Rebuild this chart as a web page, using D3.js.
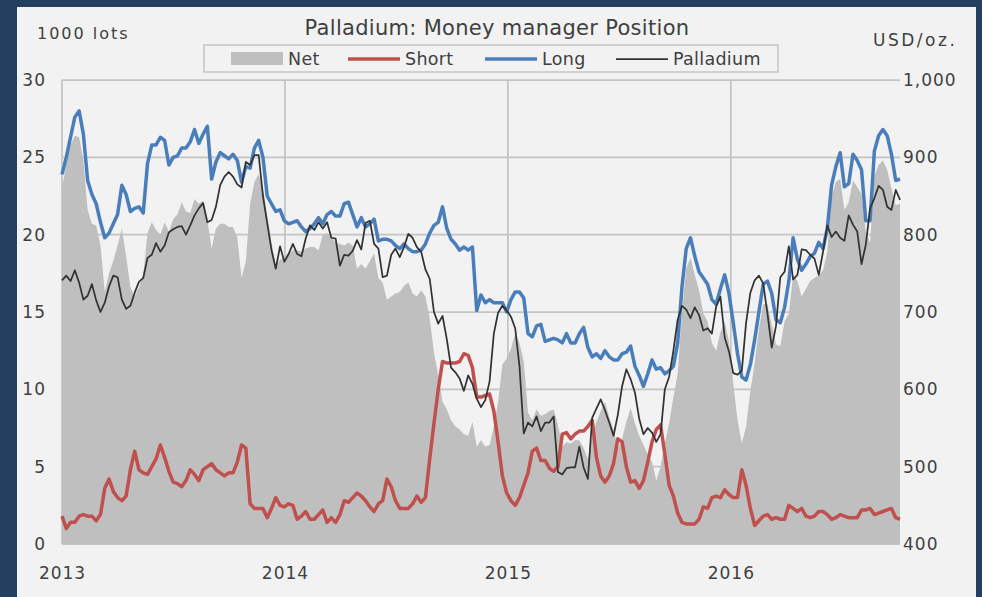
<!DOCTYPE html>
<html>
<head>
	<meta charset="utf-8">
	<script src="https://cdn.jsdelivr.net/npm/d3@7"></script>
	<style>
		body { margin: 0; background: #243f60; }
		text { font-family: "DejaVu Sans", Verdana, sans-serif; fill: #404040; }
	</style>
</head>
<body>
<script type="text/javascript">
	"use strict";

	/*
	Weekly money manager positions (1000 lots) and palladium price (USD/oz.)
	first report 2013-01-01, one value per week
	*/
	var firstWeek = new Date(2013, 0, 1);

	var netPos = [23.0,24.6,25.8,26.4,26.3,24.8,21.6,20.7,20.6,19.3,
		16.3,17.5,18.3,19.3,20.4,18.6,16.6,16.0,16.6,17.4,
		20.1,20.8,20.3,20.0,20.8,20.2,21.0,21.3,22.1,21.5,
		21.4,22.3,22.0,22.2,20.9,19.1,20.4,20.7,20.7,20.5,
		20.5,19.8,17.2,18.3,22.0,23.4,23.9,23.0,21.2,19.5,
		18.0,18.4,18.5,18.8,19.0,19.0,18.9,19.1,19.2,19.2,
		19.0,20.0,20.1,19.8,19.5,19.4,19.3,19.5,19.3,17.8,
		18.1,17.8,18.3,18.8,17.2,16.9,15.8,16.0,16.2,16.3,
		16.7,16.9,16.2,16.0,16.4,16.0,14.6,12.4,10.9,9.2,
		8.7,8.0,7.6,7.4,7.1,7.0,7.9,6.3,6.7,6.3,
		6.4,7.6,9.2,11.6,12.0,12.6,13.6,13.0,11.8,8.5,
		8.0,8.7,8.3,8.4,8.6,8.7,7.7,6.3,6.6,6.5,
		6.7,6.7,6.2,5.5,7.0,7.9,8.6,9.2,8.2,7.4,
		6.2,6.8,7.9,8.8,7.8,7.0,6.4,5.8,5.3,4.1,
		5.0,6.5,7.8,9.5,11.0,15.0,17.8,18.5,17.4,16.4,
		14.9,14.4,13.0,12.5,13.7,14.4,13.1,10.4,8.0,6.5,
		7.6,9.9,11.7,13.9,15.5,15.5,14.2,12.9,12.8,14.4,
		14.9,17.4,17.0,16.0,16.5,17.0,17.2,17.4,17.7,18.9,
		22.4,23.4,23.6,21.6,22.1,23.5,23.1,22.6,20.2,19.5,
		23.8,24.5,24.8,24.2,23.0,21.9,22.0];

	var shortPos = [1.8,1.0,1.4,1.4,1.8,1.9,1.8,1.8,1.5,1.9,
		3.6,4.2,3.4,3.0,2.8,3.1,4.8,6.0,4.8,4.6,
		4.5,5.0,5.5,6.4,5.6,4.7,4.0,3.9,3.7,4.1,
		4.8,4.5,4.1,4.8,5.0,5.2,4.8,4.6,4.4,4.6,
		4.6,5.3,6.4,6.2,2.6,2.3,2.3,2.3,1.7,2.3,
		3.0,2.5,2.4,2.6,2.5,1.6,1.8,2.1,1.6,1.6,
		1.9,2.2,1.4,1.7,1.4,1.9,2.8,2.7,3.0,3.3,
		3.1,2.8,2.4,2.1,2.6,2.8,4.2,3.7,2.8,2.3,
		2.3,2.3,2.6,3.1,2.7,3.0,5.5,7.8,10.0,11.8,
		11.7,11.7,11.7,11.8,12.3,12.2,11.4,9.5,9.5,9.6,
		9.7,8.6,6.6,4.4,3.3,2.8,2.5,3.0,3.8,4.6,
		6.0,6.2,5.4,5.4,4.9,4.7,5.0,7.1,7.2,6.8,
		7.1,7.3,7.3,7.6,8.0,5.6,4.4,4.0,4.4,5.2,
		6.8,6.6,5.0,4.0,4.1,3.6,4.1,5.3,6.6,7.4,
		7.7,5.8,3.8,3.1,2.0,1.4,1.3,1.3,1.3,1.6,
		2.4,2.3,3.0,3.1,3.0,3.5,3.2,3.0,3.0,4.8,
		3.8,2.3,1.2,1.5,1.8,1.9,1.6,1.7,1.6,1.6,
		2.5,2.3,2.1,2.3,1.8,1.7,1.8,2.1,2.1,1.9,
		1.6,1.7,1.9,1.8,1.7,1.7,1.7,2.2,2.2,2.3,
		1.9,2.0,2.1,2.2,2.3,1.7,1.6];

	var longPos = [23.9,25.0,26.3,27.6,28.0,26.5,23.5,22.6,22.0,20.8,
		19.8,20.1,20.7,21.3,23.2,22.6,21.5,21.7,21.8,21.4,
		24.6,25.8,25.8,26.3,26.1,24.5,25.0,25.1,25.6,25.6,
		26.0,26.8,25.9,26.5,27.0,23.6,24.7,25.3,25.1,24.9,
		25.2,24.8,23.4,24.4,24.3,25.6,26.1,25.0,22.5,22.0,
		21.5,21.6,20.9,20.7,20.8,20.9,20.5,20.2,20.4,20.7,
		21.1,20.7,21.3,21.5,21.2,21.2,22.0,22.1,21.3,20.5,
		21.1,20.5,20.7,21.0,19.6,19.7,19.7,19.6,19.3,19.1,
		19.4,19.1,18.9,18.9,19.0,19.4,20.1,20.6,20.8,21.8,
		20.4,19.7,19.4,19.0,19.2,19.0,19.2,15.1,16.1,15.6,
		15.8,15.6,15.6,15.6,15.0,15.8,16.3,16.3,15.9,13.6,
		13.4,14.1,14.2,13.1,13.2,13.3,13.2,13.0,13.6,13.0,
		13.0,13.6,14.0,12.7,12.1,12.3,12.0,12.5,12.1,11.9,
		11.9,12.3,12.4,12.8,11.5,10.9,10.2,11.0,11.9,11.3,
		11.4,11.0,11.2,11.5,13.0,16.6,19.1,19.8,18.6,17.6,
		17.2,16.8,15.8,15.5,16.5,17.4,16.2,14.3,12.3,10.8,
		10.6,11.6,13.2,15.0,16.8,17.0,16.2,14.5,14.3,15.3,
		17.0,19.8,18.4,17.7,18.1,18.6,18.8,19.5,19.1,20.4,
		23.2,24.4,25.3,23.1,23.3,25.2,24.8,24.2,20.9,20.9,
		25.4,26.4,26.8,26.4,25.2,23.5,23.6];

	var palladium = [741,747,740,754,738,716,721,736,715,700,
		712,733,747,745,716,704,708,725,739,744,
		770,774,789,778,786,803,807,810,811,800,
		812,825,834,841,816,819,836,864,875,881,
		875,865,861,894,890,903,903,850,815,780,
		756,785,765,775,788,775,772,795,812,806,
		816,808,816,796,795,760,774,773,779,793,
		781,815,818,788,782,745,747,774,782,771,
		784,801,796,784,778,755,743,700,685,695,
		665,628,622,614,598,618,607,588,577,586,
		610,672,699,708,702,694,679,630,543,557,
		552,565,546,557,557,565,493,490,498,499,
		499,526,499,484,563,575,587,573,557,540,
		567,604,626,613,596,562,542,550,544,532,
		542,600,616,650,690,708,703,692,706,696,
		676,679,672,707,720,667,649,621,619,624,
		686,725,741,747,737,698,654,682,745,752,
		785,742,748,781,780,774,769,748,778,812,
		797,804,796,792,825,813,804,762,787,834,
		847,863,858,836,832,858,845];

	var leftTicks = [0, 5, 10, 15, 20, 25, 30];
	var rightTicks = [400, 500, 600, 700, 800, 900, 1000];
	var yearTicks = [2013, 2014, 2015, 2016];

	var legendNames = ["Net", "Short", "Long", "Palladium"];

	/*
	Setup
	*/
	var width = 982,
		height = 597,
		plot = { left: 62, right: 900, top: 80, bottom: 544 };

	var dates = netPos.map(function (d, i) { return d3.timeDay.offset(firstWeek, i * 7); });

	var svg = d3.select("body")
		.append("svg")
		.attr("width", width)
		.attr("height", height);

	// navy frame and light panel
	svg.append("rect").attr("width", width).attr("height", height).attr("fill", "#243f60");
	svg.append("rect")
		.attr("x", 17).attr("y", 7)
		.attr("width", 959).attr("height", height - 7)
		.attr("fill", "#f2f2f2");

	var x = d3.scaleTime()
		.domain([dates[0], dates[dates.length - 1]])
		.range([plot.left, plot.right]);
	var yLeft = d3.scaleLinear().domain([0, 30]).range([plot.bottom, plot.top]);
	var yRight = d3.scaleLinear().domain([400, 1000]).range([plot.bottom, plot.top]);

	/*
	Gridlines
	*/
	var grid = svg.append("g").attr("stroke", "#c4c4c4").attr("stroke-width", 1.75);
	grid.selectAll("line.h")
		.data(leftTicks)
		.enter()
		.append("line")
			.attr("x1", plot.left)
			.attr("x2", plot.right)
			.attr("y1", function (d) { return yLeft(d); })
			.attr("y2", function (d) { return yLeft(d); });
	grid.selectAll("line.v")
		.data(yearTicks)
		.enter()
		.append("line")
			.attr("x1", function (d) { return x(new Date(d, 0, 1)); })
			.attr("x2", function (d) { return x(new Date(d, 0, 1)); })
			.attr("y1", plot.top)
			.attr("y2", plot.bottom);

	/*
	Series
	*/
	var netArea = d3.area()
		.x(function (d, i) { return x(dates[i]); })
		.y0(yLeft(0))
		.y1(function (d) { return yLeft(d); });

	var leftLine = d3.line()
		.x(function (d, i) { return x(dates[i]); })
		.y(function (d) { return yLeft(d); });

	var rightLine = d3.line()
		.x(function (d, i) { return x(dates[i]); })
		.y(function (d) { return yRight(d); });

	svg.append("path").datum(netPos).attr("d", netArea).attr("fill", "#bfbfbf");

	svg.append("path").datum(shortPos).attr("d", leftLine)
		.attr("fill", "none").attr("stroke", "#c0504d")
		.attr("stroke-width", 3.5).attr("stroke-linejoin", "round");

	svg.append("path").datum(longPos).attr("d", leftLine)
		.attr("fill", "none").attr("stroke", "#4a7ebb")
		.attr("stroke-width", 3.5).attr("stroke-linejoin", "round");

	svg.append("path").datum(palladium).attr("d", rightLine)
		.attr("fill", "none").attr("stroke", "#333333")
		.attr("stroke-width", 1.75).attr("stroke-linejoin", "round");

	/*
	Axes
	*/
	var axisLeft = svg.append("g")
		.attr("transform", "translate(" + plot.left + ",0)")
		.call(d3.axisLeft(yLeft).tickValues(leftTicks).tickSize(0).tickPadding(16));
	var axisRight = svg.append("g")
		.attr("transform", "translate(" + plot.right + ",0)")
		.call(d3.axisRight(yRight).tickValues(rightTicks).tickSize(0).tickPadding(3)
			.tickFormat(d3.format(",")));
	var axisBottom = svg.append("g")
		.attr("transform", "translate(0," + plot.bottom + ")")
		.call(d3.axisBottom(x)
			.tickValues(yearTicks.map(function (d) { return new Date(d, 0, 1); }))
			.tickSize(0).tickPadding(23)
			.tickFormat(d3.timeFormat("%Y")));

	[axisLeft, axisRight, axisBottom].forEach(function (a) {
		a.select(".domain").remove();
		a.selectAll("text")
			.attr("fill", "#404040")
			.style("font-family", "'DejaVu Sans', Verdana, sans-serif")
			.style("font-size", "17px")
			.style("letter-spacing", "1px");
	});

	/*
	Titles
	*/
	svg.append("text")
		.attr("x", 497).attr("y", 35)
		.attr("text-anchor", "middle")
		.style("font-size", "21px")
		.style("letter-spacing", "0.3px")
		.text("Palladium: Money manager Position");

	svg.append("text")
		.attr("x", 37).attr("y", 39)
		.style("font-size", "16px")
		.style("letter-spacing", "2px")
		.text("1000 lots");

	svg.append("text")
		.attr("x", 873).attr("y", 46)
		.style("font-size", "17px")
		.style("letter-spacing", "2.5px")
		.text("USD/oz.");

	/*
	Legend
	*/
	var legend = svg.append("g");
	legend.append("rect")
		.attr("x", 204).attr("y", 45)
		.attr("width", 574).attr("height", 27)
		.attr("fill", "#f2f2f2")
		.attr("stroke", "#c4c4c4")
		.attr("stroke-width", 1.5);

	var legendX = [231, 348, 485, 616];
	var legendStyle = [
		{ color: "#bfbfbf", w: 0 },
		{ color: "#c0504d", w: 3.5 },
		{ color: "#4a7ebb", w: 3.5 },
		{ color: "#333333", w: 1.75 }
	];

	legendNames.forEach(function (name, i) {
		var lx = legendX[i];
		if (i === 0) {
			legend.append("rect")
				.attr("x", lx).attr("y", 52)
				.attr("width", 52).attr("height", 13)
				.attr("fill", legendStyle[i].color);
		} else {
			legend.append("line")
				.attr("x1", lx).attr("x2", lx + 52)
				.attr("y1", 59).attr("y2", 59)
				.attr("stroke", legendStyle[i].color)
				.attr("stroke-width", legendStyle[i].w);
		}
		legend.append("text")
			.attr("x", lx + 57).attr("y", 65)
			.style("font-size", "17.5px")
			.style("letter-spacing", "0.3px")
			.text(name);
	});
</script>
</body>
</html>
